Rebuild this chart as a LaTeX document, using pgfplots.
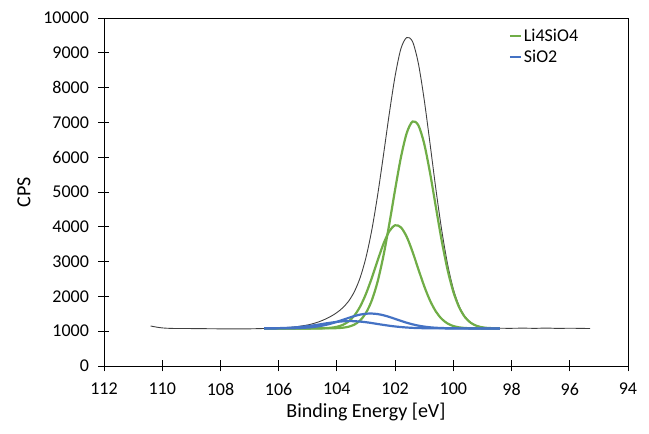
\documentclass[border=0pt]{standalone}
\usepackage{fontspec}
\setmainfont{Carlito}
\usepackage{pgfplots}
\pgfplotsset{compat=1.18}
\definecolor{xgreen}{HTML}{70AD47}
\definecolor{xblue}{HTML}{4472C4}
\definecolor{xblack}{HTML}{404040}
\begin{document}
\begin{tikzpicture}
\begin{axis}[
 at={(104pt,68pt)}, anchor=south west,
 scale only axis, width=524pt, height=348pt,
 x dir=reverse, xmin=94, xmax=112, ymin=0, ymax=10000,
 xtick={94,96,...,112}, ytick={0,1000,...,10000},
 tick pos=left, tick align=center, major tick length=11pt,
 tick style={black, line width=0.8pt},
 axis line style={black, line width=0.8pt},
 scaled y ticks=false,
 /pgf/number format/1000 sep={},
 /pgf/number format/assume math mode=true,
 tick label style={font=\fontsize{18}{20}\selectfont},
 yticklabel style={xshift=-6pt},
 xticklabel style={yshift=-8pt},
 xlabel={Binding Energy [eV]}, ylabel={CPS},
 label style={font=\fontsize{20}{24}\selectfont},
 ylabel style={yshift=6pt},
 xlabel style={yshift=-1pt},
 legend style={at={(0.772,0.975)}, anchor=north west, draw=none, fill=none,
   font=\fontsize{18}{20}\selectfont, row sep=3pt, inner sep=0pt},
 legend cell align=left,
 legend image code/.code={\draw[#1] (0pt,0pt) -- (11pt,0pt);},
]
\addplot[xblack, line width=0.9pt, smooth, forget plot] coordinates {
(110.4,1150)(110.2,1118)(110.0,1095)(109.7,1080)(109.3,1078)(109.0,1076)(108.5,1072)(108.0,1068)(107.5,1066)(107.0,1068)(106.5,1078)(106.2,1086)(105.8,1098)(105.4,1128)(105.0,1180)(104.8,1222)(104.6,1276)(104.4,1345)(104.2,1430)(104.0,1535)(103.8,1672)(103.6,1860)(103.4,2135)(103.2,2540)(103.0,3120)(102.8,3910)(102.6,4910)(102.4,6060)(102.2,7250)(102.0,8330)(101.8,9120)(101.6,9440)(101.4,9320)(101.2,8690)(101.0,7650)(100.8,6390)(100.6,5090)(100.4,3910)(100.2,2940)(100.0,2215)(99.8,1725)(99.6,1420)(99.4,1250)(99.2,1160)(99.0,1115)(98.8,1095)(98.4,1085)(98.0,1083)(97.6,1088)(97.2,1082)(96.8,1090)(96.4,1080)(96.0,1086)(95.6,1080)(95.3,1078)
};
\addplot[xgreen, line width=2.2pt, smooth] coordinates {
(106.5,1080)(106.2,1080)(105.8,1080)(105.4,1080)(105.0,1080)(104.8,1080)(104.6,1080)(104.4,1081)(104.2,1083)(104.0,1088)(103.8,1100)(103.6,1128)(103.4,1189)(103.2,1310)(103.0,1527)(102.8,1886)(102.6,2428)(102.4,3168)(102.2,4077)(102.0,5067)(101.8,5995)(101.6,6696)(101.4,7026)(101.2,6914)(101.0,6385)(100.8,5550)(100.6,4570)(100.4,3605)(100.2,2773)(100.0,2133)(99.8,1686)(99.6,1403)(99.4,1240)(99.2,1153)(99.0,1111)(98.8,1092)(98.4,1082)
};
\addlegendentry{Li4SiO4}
\addplot[xgreen, line width=2.2pt, smooth, forget plot] coordinates {
(106.5,1080)(106.2,1080)(105.8,1080)(105.4,1080)(105.0,1080)(104.8,1081)(104.6,1083)(104.4,1088)(104.2,1100)(104.0,1126)(103.8,1180)(103.6,1279)(103.4,1449)(103.2,1710)(103.0,2075)(102.8,2530)(102.6,3033)(102.4,3509)(102.2,3872)(102.0,4043)(101.8,3984)(101.6,3710)(101.4,3280)(101.2,2780)(101.0,2293)(100.8,1880)(100.6,1567)(100.4,1354)(100.2,1222)(100.0,1148)(99.8,1110)(99.6,1092)(99.4,1085)(99.2,1082)(99.0,1080)(98.8,1080)(98.4,1080)
};
\addplot[xblue, line width=2.2pt, smooth] coordinates {
(106.5,1080)(106.2,1080)(105.8,1082)(105.4,1088)(105.0,1105)(104.8,1121)(104.6,1145)(104.4,1177)(104.2,1219)(104.0,1269)(103.8,1325)(103.6,1382)(103.4,1435)(103.2,1477)(103.0,1502)(102.8,1507)(102.6,1492)(102.4,1458)(102.2,1410)(102.0,1354)(101.8,1297)(101.6,1243)(101.4,1197)(101.2,1160)(101.0,1132)(100.8,1112)(100.6,1099)(100.4,1091)(100.2,1086)(100.0,1083)(99.8,1081)(99.6,1081)(99.4,1080)(99.2,1080)(99.0,1080)(98.8,1080)(98.4,1080)
};
\addlegendentry{SiO2}
\addplot[xblue, line width=2.2pt, smooth, forget plot] coordinates {
(106.5,1082)(106.2,1084)(105.8,1093)(105.4,1112)(105.0,1146)(104.8,1168)(104.6,1194)(104.4,1221)(104.2,1246)(104.0,1268)(103.8,1283)(103.6,1290)(103.4,1287)(103.2,1276)(103.0,1258)(102.8,1234)(102.6,1207)(102.4,1181)(102.2,1157)(102.0,1136)(101.8,1119)(101.6,1106)(101.4,1096)(101.2,1090)(101.0,1086)(100.8,1083)(100.6,1082)(100.4,1081)(100.2,1080)(100.0,1080)(99.6,1080)(99.2,1080)(98.8,1080)(98.4,1080)
};
\end{axis}
\pgfresetboundingbox
\path (0pt,0pt) rectangle (649pt,434pt);
\end{tikzpicture}
\end{document}
